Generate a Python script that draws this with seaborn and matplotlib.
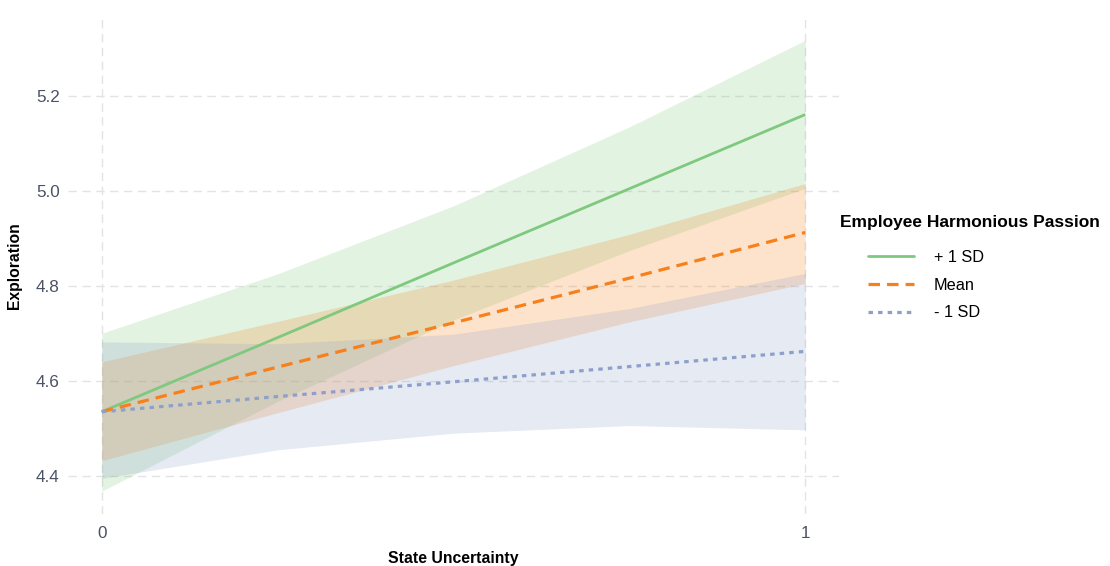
import matplotlib
matplotlib.use("Agg")
import matplotlib.pyplot as plt
import pandas as pd
import seaborn as sns
from matplotlib.lines import Line2D

# Simple slopes of exploration on state uncertainty at three passion levels
x_points = [0.0, 0.25, 0.5, 0.75, 1.0]
groups = ["+ 1 SD", "Mean", "- 1 SD"]

fit_high = [4.535, 4.691, 4.848, 5.004, 5.160]
upper_high = [4.700, 4.825, 4.968, 5.134, 5.316]
lower_high = [4.368, 4.557, 4.728, 4.874, 5.005]

fit_mean = [4.535, 4.629, 4.722, 4.816, 4.912]
upper_mean = [4.640, 4.725, 4.812, 4.908, 5.015]
lower_mean = [4.432, 4.533, 4.632, 4.724, 4.805]

fit_low = [4.535, 4.567, 4.598, 4.630, 4.662]
upper_low = [4.682, 4.678, 4.698, 4.752, 4.826]
lower_low = [4.395, 4.455, 4.490, 4.506, 4.497]

y_ticks = [4.4, 4.6, 4.8, 5.0, 5.2]
x_ticks = [0, 1]

colors = {"+ 1 SD": "#7FC97F", "Mean": "#F8801A", "- 1 SD": "#8DA0CB"}
dashes = {"+ 1 SD": "", "Mean": (3.6, 2.2), "- 1 SD": (1.4, 1.6)}
widths = {"+ 1 SD": 2.0, "Mean": 2.3, "- 1 SD": 2.3}

fits = {"+ 1 SD": fit_high, "Mean": fit_mean, "- 1 SD": fit_low}
uppers = {"+ 1 SD": upper_high, "Mean": upper_mean, "- 1 SD": upper_low}
lowers = {"+ 1 SD": lower_high, "Mean": lower_mean, "- 1 SD": lower_low}

rows = []
for g in groups:
    for xv, f, lo, hi in zip(x_points, fits[g], lowers[g], uppers[g]):
        rows.append({"State Uncertainty": xv, "Exploration": f,
                     "lower": lo, "upper": hi, "Passion": g})
df = pd.DataFrame(rows)

sns.set_theme(style="white")
plt.rcParams["font.family"] = ["Liberation Sans", "DejaVu Sans"]

fig = plt.figure(figsize=(11.1, 5.66), dpi=100)
ax = fig.add_axes([68 / 1110, 1 - 514 / 566, (839 - 68) / 1110, (514 - 18) / 566])

# confidence bands
for g in groups:
    sub = df[df["Passion"] == g]
    ax.fill_between(sub["State Uncertainty"], sub["lower"], sub["upper"],
                    color=colors[g], alpha=0.22, linewidth=0, zorder=1)

# fitted lines
for g in groups:
    sub = df[df["Passion"] == g]
    sns.lineplot(data=sub, x="State Uncertainty", y="Exploration", ax=ax,
                 color=colors[g], linewidth=widths[g], legend=False, zorder=3)
    line = ax.lines[-1]
    if dashes[g]:
        line.set_dashes(dashes[g])
    line.set_solid_capstyle("butt")
    line.set_dash_capstyle("butt")

ax.set_xlim(-0.048, 1.048)
ax.set_ylim(4.32, 5.363)
ax.set_xticks(x_ticks)
ax.set_xticklabels([str(t) for t in x_ticks])
ax.set_yticks(y_ticks)
ax.set_yticklabels([f"{t:.1f}" for t in y_ticks])

ax.grid(True, color="#E3E3E3", linestyle=(0, (6, 4)), linewidth=1.0, zorder=0)
ax.set_axisbelow(True)
for s in ax.spines.values():
    s.set_visible(False)

ax.tick_params(axis="both", length=0, labelsize=12.3, colors="#4A5263")
ax.tick_params(axis="y", pad=6)
ax.tick_params(axis="x", pad=9)

ax.set_xlabel("State Uncertainty", fontsize=11.3, fontweight="bold",
              color="black", labelpad=7)
ax.set_ylabel("Exploration", fontsize=11.3, fontweight="bold",
              color="black", labelpad=10)

# legend: bold title, entries indented beneath it
fig.text(840 / 1110, 1 - 222 / 566, "Employee Harmonious Passion",
         fontsize=12.5, fontweight="bold", color="black",
         ha="left", va="center")
handles = []
for g in groups:
    h = Line2D([0], [0], color=colors[g], linewidth=widths[g])
    if dashes[g]:
        h.set_dashes(dashes[g])
    h.set_dash_capstyle("butt")
    handles.append(h)
leg = fig.legend(handles, groups, loc="upper left",
                 bbox_to_anchor=(868 / 1110, 1 - 250 / 566),
                 frameon=False, fontsize=11.7, borderpad=0, borderaxespad=0,
                 handlelength=2.8, handletextpad=1.25, labelspacing=0.78)
for t in leg.get_texts():
    t.set_color("black")

fig.savefig("out.png", dpi=100)
